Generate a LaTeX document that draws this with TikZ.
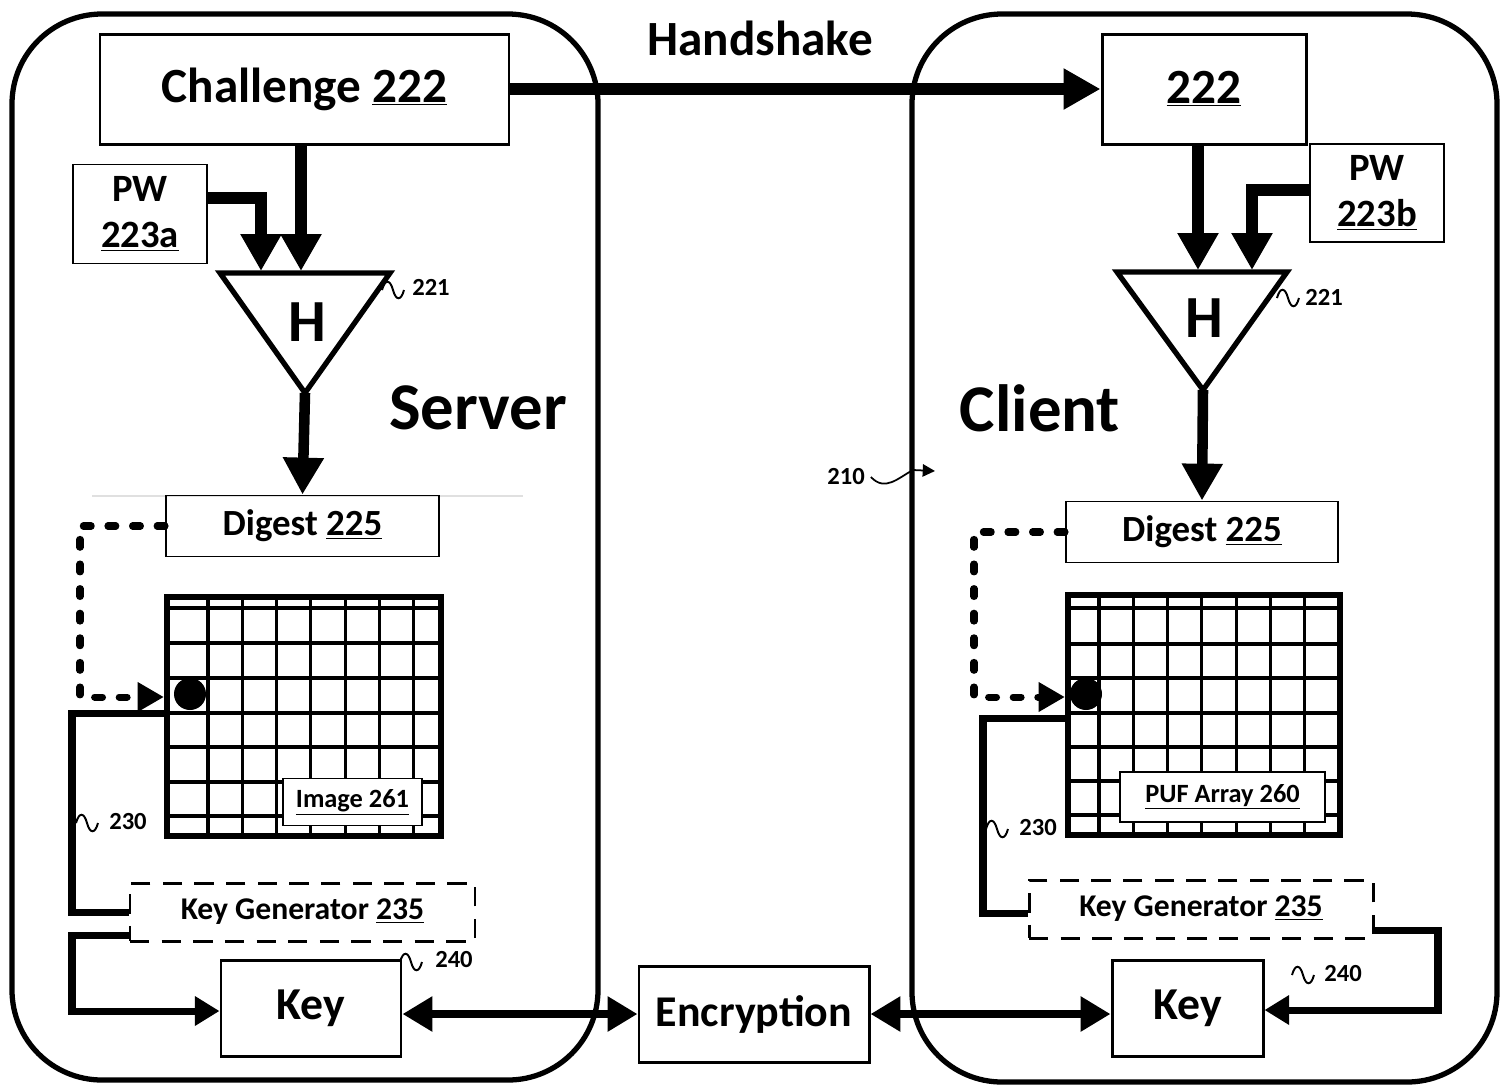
\documentclass[tikz,border=0pt]{standalone}
\usepackage{fontspec}
\setmainfont{Carlito}
\usetikzlibrary{arrows.meta}
\newlength\pix
\setlength\pix{0.2mm}
\newcommand\fsz[2]{\bfseries\fontsize{#1}{#2}\selectfont}

\tikzset{
  box/.style={draw, line width=1.7pt, inner sep=0pt, align=center},
  thinbox/.style={box, line width=1.1pt},
  genbox/.style={box, dash pattern=on 11pt off 7pt},
  lbl/.style={font=\fsz{14}{14}},
  gridline/.style={line width=1.8pt},
  bigarrow/.style={line width=7pt, -{Triangle[length=21pt,width=22pt]}},
  feed/.style={line width=4pt},
  feedarrow/.style={feed, -{Triangle[length=14pt,width=16pt]}},
  duplex/.style={line width=4.5pt, {Triangle[length=17pt,width=19pt]}-{Triangle[length=17pt,width=19pt]}},
  dasharrow/.style={line width=4pt, line cap=round, dash pattern=on 4.5pt off 9.5pt,
    -{Triangle[length=15pt,width=16pt]}},
  squiggle/.pic={\draw[line width=1.1pt] (0,0) .. controls (3,-11) and (8,-11) .. (11,0)
    .. controls (14,11) and (19,11) .. (22,0);}
}

\begin{document}
\begin{tikzpicture}[x=0.2mm, y=-0.2mm]
  \useasboundingbox (0,0) rectangle (1501,1086);

  % panels
  \draw[line width=3pt, rounded corners=18mm] (12,14) rectangle (598,1080);
  \draw[line width=3pt, rounded corners=18mm] (912,14) rectangle (1497,1082);

  \node[font=\fsz{28}{28}] (hsk) at (760,38) {Handshake};
  \node[font=\fsz{38}{38}] (srv) at (478,408) {Server};
  \node[font=\fsz{38}{38}] (cli) at (1040,408) {Client};

  % server side
  \node[box, minimum width=409\pix, minimum height=110\pix, font=\fsz{28}{32}] (chal) at (304.5,89) {Challenge \underline{222}};
  \node[thinbox, minimum width=134\pix, minimum height=99\pix, font=\fsz{22}{26}] (pwa) at (140,214) {PW\\\underline{223a}};

  \draw[line width=3pt] (220,273) -- (390,273) -- (305,393) coordinate (hao) -- cycle;
  \node[font=\fsz{34}{34}] (ha) at (307,322) {H};
  \coordinate (hain1) at (301,271);
  \coordinate (hain2) at (261,271);
  \coordinate (tura) at (261,198);

  \draw[bigarrow] (hain1 |- chal.south) -- (hain1);
  \draw[bigarrow] (pwa.east |- tura) -- (tura) -- (hain2);

  \draw[black!12, line width=0.6pt] (92,496) -- (523,496);
  \node[thinbox, minimum width=273\pix, minimum height=61\pix, font=\fsz{21}{21}] (digs) at (302.5,526) {Digest \underline{225}};
  \draw[bigarrow, line width=6pt] (hao) -- (digs.north);

  % server image
  \foreach \gx in {0,...,6}
    \draw[gridline] (208+34.3*\gx,597) -- (208+34.3*\gx,836);
  \foreach \gy in {608,643,678,713,747,782,816}
    \draw[gridline] (167,\gy) -- (441,\gy);
  \node[draw, line width=3.5pt, minimum width=274\pix, minimum height=239\pix, inner sep=0pt] (imgs) at (304,716.5) {};
  \node[circle, fill, minimum size=32\pix, inner sep=0pt] (cells) at (190,694) {};
  \node[thinbox, fill=white, line width=0.8pt, minimum width=139\pix, minimum height=47\pix, font=\fsz{15}{15}] (imgl) at (352.5,802) {\underline{Image 261}};

  \coordinate (dls) at (80,697);
  \draw[dasharrow] (digs.west) -| (dls) -- (dls -| imgs.west);

  \node[genbox, minimum width=345\pix, minimum height=58\pix, font=\fsz{18}{18}] (kgs) at (302.5,912) {Key Generator \underline{235}};
  \node[box, minimum width=180\pix, minimum height=96\pix, font=\fsz{26}{26}] (keys) at (311,1008) {Key};

  \coordinate (fbs) at (72,713);
  \draw[feed] (imgs.west |- fbs) -- (fbs) |- (kgs.west);
  \coordinate (kbs) at (72,935);
  \coordinate (kbs2) at (72,1011);
  \draw[feedarrow] (kgs.west |- kbs) -- (kbs) -- (kbs2) -- (kbs2 -| keys.west);

  \node[lbl] (l221s) at (431,287) {221};
  \pic at (382,290) {squiggle};
  \node[lbl] (l230s) at (128,822) {230};
  \pic at (76,823) {squiggle};
  \node[lbl] (l240s) at (454,959) {240};
  \pic at (400,962) {squiggle};

  % middle
  \node[box, minimum width=230\pix, minimum height=96\pix, font=\fsz{25}{25}] (enc) at (754,1014) {Encryption};

  \node[lbl] (l210) at (846,477) {210};
  \coordinate (p210) at (935,471);
  \draw[line width=1pt, -{Triangle[length=7pt,width=7pt]}] (l210.east) .. controls (885,492) and (898,478) .. (913,470) -- (p210);

  % client side
  \node[box, minimum width=204\pix, minimum height=110\pix, font=\fsz{28}{32}] (c222) at (1204,89) {\underline{222}};
  \node[thinbox, minimum width=134\pix, minimum height=98\pix, font=\fsz{22}{26}] (pwb) at (1377,193) {PW\\\underline{223b}};
  \draw[bigarrow] (chal.east) -- (c222.west |- chal.east);

  \draw[line width=3pt] (1117,272) -- (1287,272) -- (1203,390) coordinate (hbo) -- cycle;
  \node[font=\fsz{34}{34}] (hb) at (1204,318) {H};
  \coordinate (hbin1) at (1198,270);
  \coordinate (hbin2) at (1252,270);
  \coordinate (turb) at (1252,190);

  \draw[bigarrow] (hbin1 |- c222.south) -- (hbin1);
  \draw[bigarrow] (pwb.west |- turb) -- (turb) -- (hbin2);

  \node[thinbox, minimum width=272\pix, minimum height=61\pix, font=\fsz{21}{21}] (digc) at (1202,532) {Digest \underline{225}};
  \draw[bigarrow, line width=6pt] (hbo) -- (digc.north);

  % client array
  \foreach \gx in {0,...,6}
    \draw[gridline] (1099+34.3*\gx,595) -- (1099+34.3*\gx,835);
  \foreach \gy in {608,644,678,713,747,781,815}
    \draw[gridline] (1068,\gy) -- (1340,\gy);
  \node[draw, line width=3.5pt, minimum width=272\pix, minimum height=240\pix, inner sep=0pt] (imgc) at (1204,715) {};
  \node[circle, fill, minimum size=32\pix, inner sep=0pt] (cellc) at (1086,694) {};
  \node[thinbox, fill=white, line width=0.8pt, minimum width=205\pix, minimum height=50\pix, font=\fsz{15}{15}] (pufl) at (1222.5,797) {\underline{PUF Array 260}};

  \coordinate (dlc) at (974,697);
  \draw[dasharrow] (digc.west) -| (dlc) -- (dlc -| imgc.west);

  \node[genbox, minimum width=344\pix, minimum height=58\pix, font=\fsz{18}{18}] (kgc) at (1201,909) {Key Generator \underline{235}};
  \node[box, minimum width=151\pix, minimum height=96\pix, font=\fsz{26}{26}] (keyc) at (1187.5,1008) {Key};

  \coordinate (fbc) at (983,718);
  \coordinate (fbc2) at (983,913);
  \draw[feed] (imgc.west |- fbc) -- (fbc) -- (fbc2) -- (fbc2 -| kgc.west);
  \coordinate (krc) at (1438,930);
  \coordinate (krc2) at (1438,1010);
  \draw[feedarrow] (kgc.east |- krc) -- (krc) -- (krc2) -- (krc2 -| keyc.east);

  \node[lbl] (l221c) at (1324,297) {221};
  \pic at (1277,298) {squiggle};
  \node[lbl] (l230c) at (1038,827) {230};
  \pic at (986,829) {squiggle};
  \node[lbl] (l240c) at (1343,973) {240};
  \pic at (1292,975) {squiggle};

  % key exchange
  \draw[duplex] (keys.east |- enc.west) -- (enc.west);
  \draw[duplex] (enc.east) -- (enc.east -| keyc.west);
\end{tikzpicture}
\end{document}
